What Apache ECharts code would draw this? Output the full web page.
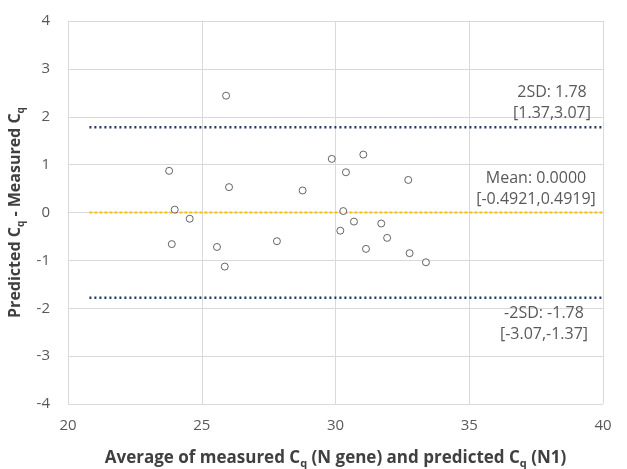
<!DOCTYPE html>
<html>
<head>
<meta charset="utf-8">
<script src="https://cdn.jsdelivr.net/npm/echarts@6/dist/echarts.min.js"></script>
<style>
  html, body { margin: 0; padding: 0; background: #fff; }
  #chart { width: 627px; height: 469px; }
</style>
</head>
<body>
<div id="chart"></div>
<script>
// Bland-Altman style: average Cq vs difference
const points = [
  [25.91, 2.44], [23.78, 0.87], [26.02, 0.53], [28.77, 0.46], [29.86, 1.12],
  [30.39, 0.84], [31.04, 1.21], [32.72, 0.68], [23.99, 0.06], [24.55, -0.13],
  [30.29, 0.03], [23.88, -0.66], [25.57, -0.72], [25.86, -1.13], [27.81, -0.60],
  [30.18, -0.38], [30.69, -0.19], [31.71, -0.23], [31.93, -0.53], [31.14, -0.76],
  [32.77, -0.85], [33.38, -1.04]
]
const lineStart = 20.8
const lineEnd = 40
const meanValue = 0
const upperSD = 1.78
const lowerSD = -1.78
const upperText = ['2SD: 1.78', '[1.37,3.07]']
const meanText = ['Mean: 0.0000', '[-0.4921,0.4919]']
const lowerText = ['-2SD: -1.78', '[-3.07,-1.37]']

const font = '"Open Sans", "Liberation Sans", sans-serif'
const gridColor = '#d9d9d9'
const textColor = '#595959'

const refLine = (name, y, color, type, width, text, offset) => ({
  name,
  type: 'line',
  symbol: 'none',
  silent: true,
  z: 1,
  lineStyle: { color, type, width },
  endLabel: {
    show: true,
    distance: 0,
    offset,
    align: 'center',
    verticalAlign: 'middle',
    formatter: text.join('\n'),
    fontFamily: font,
    fontSize: 16,
    lineHeight: 21,
    color: textColor
  },
  data: [[lineStart, y], [lineEnd, y]]
})

const nameRich = (size) => ({
  m: { fontFamily: font, fontSize: size, fontWeight: 'bold', color: '#404040' },
  s: { fontFamily: font, fontSize: Math.round(size * 0.65), fontWeight: 'bold', color: '#404040', padding: [Math.round(size * 0.6), 0, 0, 0] }
})

const chart = echarts.init(document.getElementById('chart'))
chart.setOption({
  animation: false,
  grid: { left: 68, right: 24, top: 21, bottom: 65, outerBoundsMode: 'none' },
  xAxis: {
    type: 'value',
    min: 20,
    max: 40,
    interval: 5,
    name: '{m|Average of measured C}{s|q}{m| (N gene) and predicted C}{s|q}{m| (N1)}',
    nameLocation: 'middle',
    nameGap: 44,
    nameTextStyle: { rich: nameRich(17) },
    axisLine: { show: true, lineStyle: { color: gridColor } },
    axisTick: { show: false },
    axisLabel: { fontFamily: font, fontSize: 15, color: textColor, margin: 14 },
    splitLine: { show: true, lineStyle: { color: gridColor } }
  },
  yAxis: {
    type: 'value',
    min: -4,
    max: 4,
    interval: 1,
    name: '{m|Predicted C}{s|q}{m| - Measured C}{s|q}',
    nameLocation: 'middle',
    nameGap: 41,
    nameTextStyle: { rich: nameRich(16) },
    axisLine: { show: true, lineStyle: { color: gridColor } },
    axisTick: { show: false },
    axisLabel: { fontFamily: font, fontSize: 15, color: textColor, margin: 18 },
    splitLine: { show: true, lineStyle: { color: gridColor } }
  },
  series: [
    refLine('2SD', upperSD, '#1f3864', [2, 3], 2.5, upperText, [-51, -24]),
    refLine('Mean', meanValue, '#ffc000', [3, 2], 2, meanText, [-67, -24]),
    refLine('-2SD', lowerSD, '#1f3864', [2, 3], 2.5, lowerText, [-59, 26]),
    {
      name: 'Samples',
      type: 'scatter',
      z: 3,
      symbol: 'circle',
      symbolSize: 7,
      itemStyle: { color: '#fff', borderColor: '#404040', borderWidth: 1 },
      data: points
    }
  ]
})
</script>
</body>
</html>
